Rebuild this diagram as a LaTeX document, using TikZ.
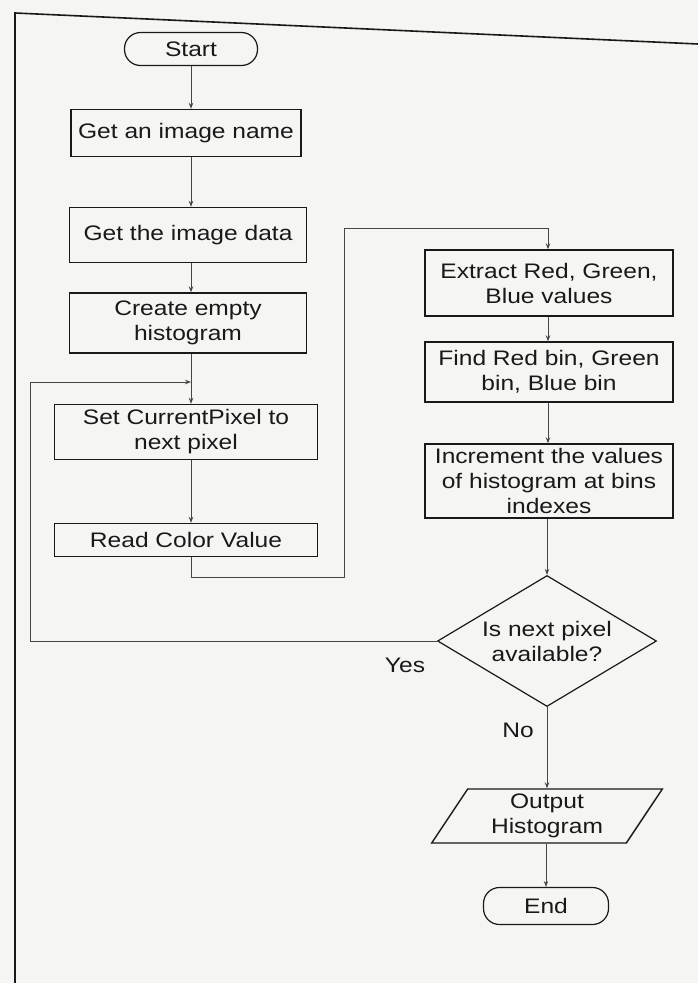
\documentclass[tikz,border=0pt]{standalone}
\usepackage{fontspec}
\setmainfont{Liberation Sans}[FakeStretch=1.17]
\usetikzlibrary{shapes.geometric,arrows.meta}
\definecolor{paper}{RGB}{245,245,243}
\definecolor{ink}{RGB}{25,25,25}
\definecolor{wire}{RGB}{70,70,70}
\begin{document}
\begin{tikzpicture}[x=1pt,y=-1pt,
  every node/.style={font=\fontsize{21}{25}\selectfont, text=ink},
  procbox/.style={draw=ink, line width=1.4pt, rectangle, align=center, inner sep=2pt},
  termbox/.style={draw=ink, line width=1.2pt, rectangle, rounded corners=16pt, align=center},
  decision/.style={draw=ink, line width=1.2pt, diamond, inner sep=0pt},
  iobox/.style={draw=ink, line width=1.4pt, trapezium, trapezium left angle=60,
    trapezium right angle=120, trapezium stretches=true, align=center, inner sep=0pt},
  flow/.style={draw=wire, line width=0.8pt, -{Stealth[length=6pt,width=4.5pt]}}]
% page background
\fill[paper] (0,0) rectangle (698,983);
\useasboundingbox (0,0) rectangle (698,983);
% frame of the figure
\draw[ink, line width=1.6pt] (15,983) -- (15,13) -- (698,44);

% left column
\node[termbox, minimum width=133pt, minimum height=33pt] (start) at (191,49) {Start};
\node[procbox, minimum width=230pt, minimum height=47pt] (name) at (186,133) {Get an image name};
\node[procbox, minimum width=237pt, minimum height=55pt] (data) at (188,235) {Get the image data};
\node[procbox, minimum width=237pt, minimum height=60pt] (hist) at (188,323) {Create empty\\histogram};
\node[procbox, minimum width=263pt, minimum height=55pt] (setpx) at (186,432) {Set CurrentPixel to\\next pixel};
\node[procbox, minimum width=263pt, minimum height=33pt] (color) at (186,540) {Read Color Value};

% right column
\node[procbox, minimum width=248pt, minimum height=66pt] (rgb) at (549,283) {Extract Red, Green,\\Blue values};
\node[procbox, minimum width=248pt, minimum height=60pt] (bins) at (549,372) {Find Red bin, Green\\bin, Blue bin};
\node[procbox, minimum width=248pt, minimum height=74pt] (incr) at (549,481) {Increment the values\\of histogram at bins\\indexes};
\node[decision, minimum width=219pt, minimum height=131pt] (more) at (547,641) {};
\node[align=center] (moretext) at (more.center) {Is next pixel\\available?};
\node[iobox, minimum width=231pt, minimum height=54pt] (out) at (547,816) {Output\\Histogram};
\node[termbox, minimum width=125pt, minimum height=37pt] (end) at (546,906) {End};

% branch labels
\node (yes) at (405,665) {Yes};
\node (no) at (518,730) {No};

% connector waypoints
\coordinate (down) at (191,577);
\coordinate (over) at (344,577);
\coordinate (up) at (344,228);
\coordinate (back) at (30,639);
\coordinate (top) at (30,382);
\coordinate (join) at (191,382);

% connectors
\draw[flow] (start.south -| 191,0) -- (name.north -| 191,0);
\draw[flow] (name.south -| 191,0) -- (data.north -| 191,0);
\draw[flow] (data.south -| 191,0) -- (hist.north -| 191,0);
\draw[flow] (hist.south -| 191,0) -- (setpx.north -| 191,0);
\draw[flow] (setpx.south -| 191,0) -- (color.north -| 191,0);
\draw[flow] (color.south -| down) -- (down) -- (over) -- (up) -- (up -| 548,0) -- (rgb.north -| 548,0);
\draw[flow] (rgb.south -| 548,0) -- (bins.north -| 548,0);
\draw[flow] (bins.south -| 548,0) -- (incr.north -| 548,0);
\draw[flow] (incr.south -| more.north) -- (more.north);
\draw[flow] (more.west) -- (back |- more.west) -- (top) -- (join);
\draw[flow] (more.south) -- (more.south |- out.north);
\draw[flow] (out.south -| end.north) -- (end.north);
\end{tikzpicture}
\end{document}
